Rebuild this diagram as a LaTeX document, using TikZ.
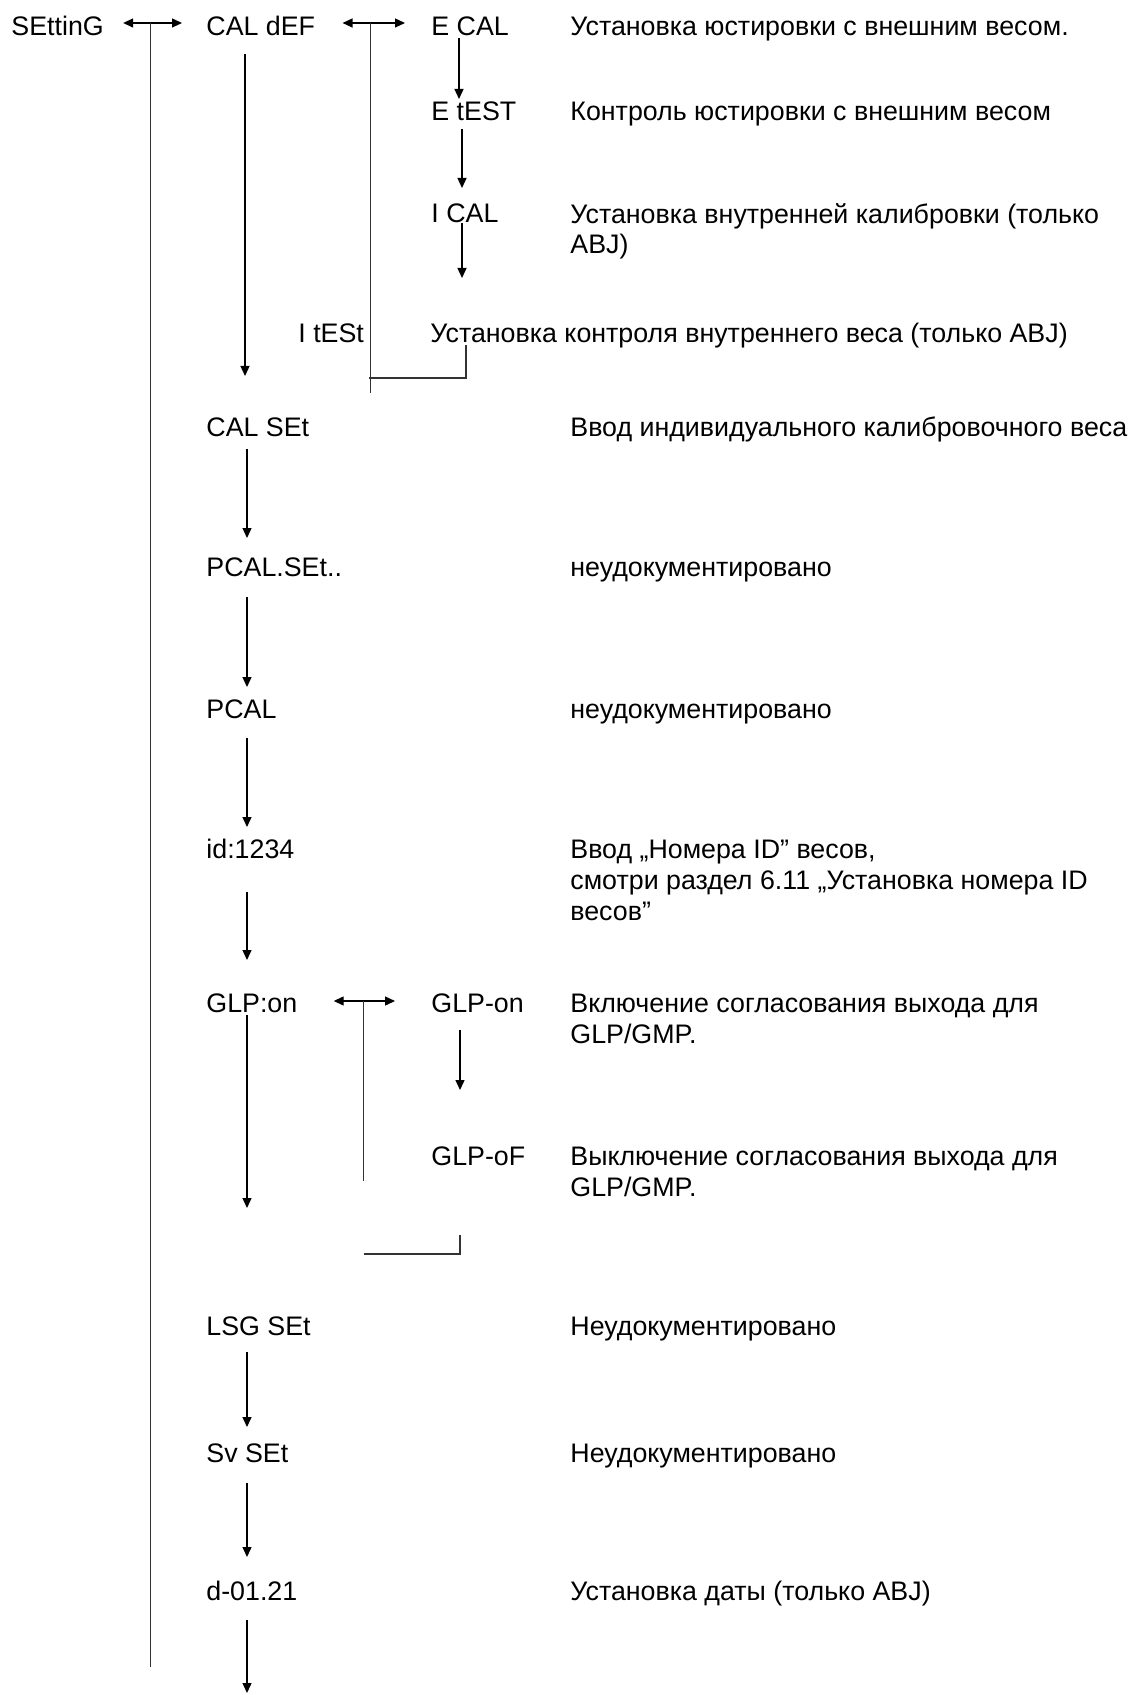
\documentclass[tikz,border=0pt]{standalone}
\usepackage{fontspec}
\setmainfont{Liberation Sans}
\usetikzlibrary{arrows.meta,calc}

\begin{document}
\begin{tikzpicture}[x=0.5pt, y=-0.5pt, >={Triangle[length=5pt,width=4.5pt]},
  font=\fontsize{13.4pt}{15.4pt}\selectfont,
  code/.style={anchor=base west, inner sep=0pt},
  note/.style={anchor=base west, inner sep=0pt, align=left},
  flow/.style={->, line width=0.65pt},
  swap/.style={<->, line width=0.65pt},
  trunk/.style={line width=0.65pt, black!80}]
\useasboundingbox (0,0) rectangle (1138,1695);
\coordinate (colB) at (247,0);
\coordinate (colC) at (462,0);
% menu codes
\node[code] (setting) at (11,36) {SEttinG};
\node[code] (caldef) at (206,36) {CAL dEF};
\node[code] (ecal) at (431,36) {E CAL};
\node[code] (etest) at (431,121) {E tEST};
\node[code] (ical) at (431,223) {I CAL};
\node[code] (itest) at (298,343) {I tESt};
\node[code] (calset) at (206,437) {CAL SEt};
\node[code] (pcalset) at (206,576) {PCAL.SEt..};
\node[code] (pcal) at (206,718) {PCAL};
\node[code] (idnum) at (206,858) {id:1234};
\node[code] (glp) at (206,1012) {GLP:on};
\node[code] (glpon) at (431,1012) {GLP-on};
\node[code] (glpof) at (431,1165) {GLP-oF};
\node[code] (lsgset) at (206,1335) {LSG SEt};
\node[code] (svset) at (206,1462) {Sv SEt};
\node[code] (date) at (206,1600) {d-01.21};
% descriptions (base of a multi-line note is its last line)
\node[note] (n-ecal) at (570,36) {Установка юстировки с внешним весом.};
\node[note] (n-etest) at (570,121) {Контроль юстировки с внешним весом};
\node[note] (n-ical) at (570,254) {Установка внутренней калибровки (только\\ABJ)};
\node[note] (n-itest) at (430,343) {Установка контроля внутреннего веса (только ABJ)};
\node[note] (n-calset) at (570,437) {Ввод индивидуального калибровочного веса};
\node[note] (n-pcalset) at (570,576) {неудокументировано};
\node[note] (n-pcal) at (570,718) {неудокументировано};
\node[note] (n-id) at (570,920) {Ввод „Номера ID” весов,\\смотри раздел 6.11 „Установка номера ID\\весов”};
\node[note] (n-glpon) at (570,1043) {Включение согласования выхода для\\GLP/GMP.};
\node[note] (n-glpof) at (570,1196) {Выключение согласования выхода для\\GLP/GMP.};
\node[note] (n-lsg) at (570,1335) {Неудокументировано};
\node[note] (n-sv) at (570,1462) {Неудокументировано};
\node[note] (n-date) at (570,1600) {Установка даты (только ABJ)};
% branches
\draw[swap] ($(setting.base east)+(19,-13)$) -- coordinate[pos=0.46] (fork1) ($(caldef.base west)+(-24,-13)$);
\draw[swap] ($(caldef.base east)+(27,-13)$) -- coordinate[pos=0.45] (fork2) ($(ecal.base west)+(-26,-13)$);
\draw[swap] ($(glp.base east)+(36,-11)$) -- coordinate[pos=0.49] (fork3) ($(glpon.base west)+(-36,-11)$);
\draw[trunk] (fork1) -- ++(0,1644);
\draw[trunk] (fork2) -- ++(0,370);
\draw[trunk] (fork3) -- ++(0,180);
\draw[trunk] ($(itest.base -| colC)+(4,2)$) |- ($(fork2 |- itest.base)+(-2,35)$);
\draw[trunk] ($(glpof.base -| colC)+(-2,70)$) |- ($(fork3 |- glpof.base)+(0,89)$);
% steps
\draw[flow] ($(caldef.base -| colB)+(-2,18)$) -- ($(calset.base -| colB)+(-2,-61)$);
\draw[flow] ($(ecal.base -| colC)+(-3,2)$) -- ($(etest.base -| colC)+(-3,-22)$);
\draw[flow] ($(etest.base -| colC)+(0,8)$) -- ($(ical.base -| colC)+(0,-35)$);
\draw[flow] (ical.base -| colC) -- ++(0,55);
\draw[flow] ($(calset.base -| colB)+(0,12)$) -- ($(pcalset.base -| colB)+(0,-38)$);
\draw[flow] ($(pcalset.base -| colB)+(0,21)$) -- ($(pcal.base -| colB)+(0,-31)$);
\draw[flow] ($(pcal.base -| colB)+(0,20)$) -- ($(idnum.base -| colB)+(0,-31)$);
\draw[flow] ($(idnum.base -| colB)+(0,34)$) -- ($(glp.base -| colB)+(0,-52)$);
\draw[flow] ($(glp.base -| colB)+(0,3)$) -- ($(lsgset.base -| colB)+(0,-127)$);
\draw[flow] ($(glpon.base -| colC)+(-2,18)$) -- ($(glpof.base -| colC)+(-2,-75)$);
\draw[flow] ($(lsgset.base -| colB)+(0,17)$) -- ($(svset.base -| colB)+(0,-35)$);
\draw[flow] ($(svset.base -| colB)+(0,21)$) -- ($(date.base -| colB)+(0,-43)$);
\draw[flow] ($(date.base -| colB)+(0,20)$) -- ++(0,73);
\end{tikzpicture}
\end{document}
